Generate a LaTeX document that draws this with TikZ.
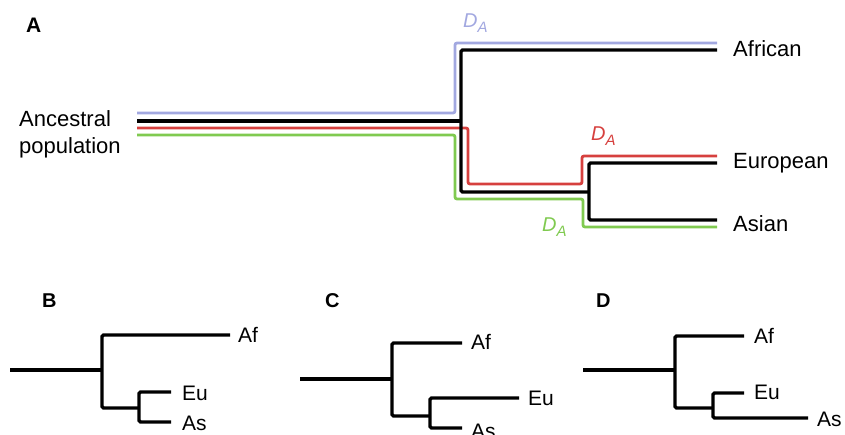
\documentclass[tikz,border=0pt]{standalone}
\usepackage{fontspec}
\setmainfont{Liberation Sans}
\definecolor{lav}{RGB}{162,168,224}
\definecolor{rd}{RGB}{214,64,62}
\definecolor{gr}{RGB}{128,202,80}
\begin{document}
\begin{tikzpicture}[x=1pt,y=-1pt,
  blk/.style={line width=3.3pt,black,rounded corners=1.5pt},
  col/.style={line width=2.8pt,rounded corners=2pt},
  lbl/.style={anchor=base west,inner sep=0pt,font=\fontsize{22}{27}\selectfont},
  small/.style={anchor=base west,inner sep=0pt,font=\fontsize{21}{25}\selectfont},
  panel/.style={anchor=base west,inner sep=0pt,font=\bfseries\fontsize{20}{24}\selectfont},
  da/.style={anchor=base west,inner sep=0pt,font=\itshape\fontsize{20}{24}\selectfont}]
\useasboundingbox (0,0) rectangle (845,435);
% ---------- Panel A ----------
\node[panel,font=\bfseries\fontsize{21}{25}\selectfont] (pA) at (26,33) {A};
\node[lbl] (anc1) at (19,127) {Ancestral};
\node[lbl] (anc2) at (19,154) {population};
\node[lbl] (afr) at (733,57) {African};
\node[lbl] (eur) at (733,169) {European};
\node[lbl] (asi) at (733,232) {Asian};
\node[da,text=lav] (d1) at (463,28) {D\raisebox{-0.45ex}{\fontsize{15}{17}\selectfont A}};
\node[da,text=rd] (d2) at (591,141) {D\raisebox{-0.45ex}{\fontsize{15}{17}\selectfont A}};
\node[da,text=gr] (d3) at (542,232) {D\raisebox{-0.45ex}{\fontsize{15}{17}\selectfont A}};
% coordinates
\coordinate (lS) at (137,113); \coordinate (lE) at (717,43);
\coordinate (kS) at (137,121); \coordinate (kJ) at (461,121);
\coordinate (rS) at (137,128); \coordinate (rE) at (717,156);
\coordinate (gS) at (137,135); \coordinate (gE) at (717,227);
\coordinate (kAf) at (717,50); \coordinate (kEu) at (717,163); \coordinate (kAs) at (717,220);
% coloured lineages
\draw[col,lav] (lS) -- (455,113) -- (455,43) -- (lE);
\draw[col,rd] (rS) -- (468,128) -- (468,184) -- (582,184) -- (582,156) -- (rE);
\draw[col,gr] (gS) -- (455,135) -- (455,199) -- (583,199) -- (583,227) -- (gE);
% black tree
\draw[blk] (kS) -- (kJ);
\draw[blk] (kAf) -- (461,50) -- (461,192) -- (589,192);
\draw[blk] (kEu) -- (589,163) -- (589,220) -- (kAs);
% ---------- Panel B ----------
\node[panel] (pB) at (42,307) {B};
\coordinate (bR) at (10,370); \coordinate (bJ) at (102,370);
\draw[blk] (bR) -- (bJ);
\draw[blk] (230,335) -- (102,335) -- (102,408) -- (139,408);
\draw[blk] (171,392) -- (139,392) -- (139,422) -- (171,422);
\node[small] (bAf) at (238,342) {Af};
\node[small] (bEu) at (182,400) {Eu};
\node[small] (bAs) at (182,430) {As};
% ---------- Panel C ----------
\node[panel] (pC) at (325,307) {C};
\coordinate (cR) at (300,379); \coordinate (cJ) at (392,379);
\draw[blk] (cR) -- (cJ);
\draw[blk] (462,343) -- (392,343) -- (392,416) -- (430,416);
\draw[blk] (519,398) -- (430,398) -- (430,428) -- (462,428);
\node[small] (cAf) at (471,349) {Af};
\node[small] (cEu) at (528,405) {Eu};
\node[small] (cAs) at (471,438) {As};
% ---------- Panel D ----------
\node[panel] (pD) at (596,307) {D};
\coordinate (dR) at (583,370); \coordinate (dJ) at (675,370);
\draw[blk] (dR) -- (dJ);
\draw[blk] (744,336) -- (675,336) -- (675,408) -- (713,408);
\draw[blk] (744,393) -- (713,393) -- (713,418) -- (808,418);
\node[small] (dAf) at (754,343) {Af};
\node[small] (dEu) at (754,399) {Eu};
\node[small] (dAs) at (817,426) {As};
\end{tikzpicture}
\end{document}
